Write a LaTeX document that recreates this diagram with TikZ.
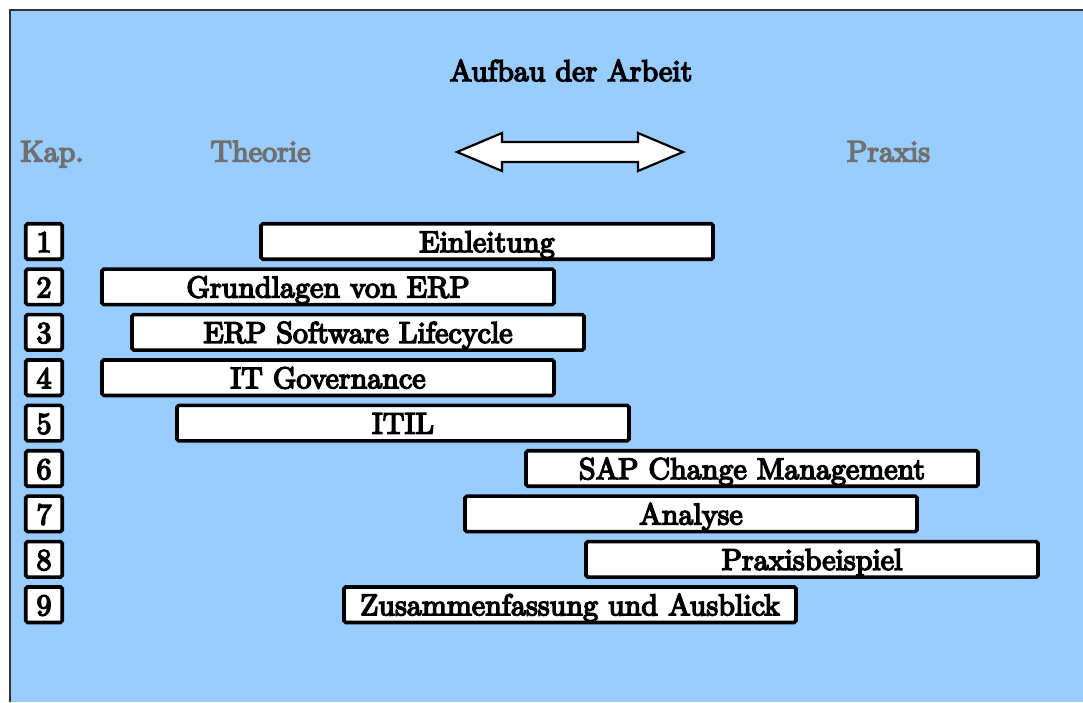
\documentclass[tikz,border=0pt]{standalone}
\usepackage{fontspec}
\newfontfamily\heavyroman[FakeBold=5]{lmroman10-regular.otf}
\definecolor{bgblue}{HTML}{99CCFF}
\definecolor{headgray}{RGB}{112,112,112}
\definecolor{framegray}{RGB}{51,51,51}
\tikzset{
  every node/.style={font=\heavyroman\fontsize{30}{34}\selectfont, inner sep=0pt,
    text height=21pt, text depth=0pt},
  chapbar/.style={draw=black, fill=white, line width=3.6pt, rounded corners=1.8pt,
    minimum width=452pt, minimum height=35.5pt},
  chapnum/.style={draw=black, fill=white, line width=3.6pt, rounded corners=1.8pt,
    minimum width=36.5pt, minimum height=35.5pt},
  colhead/.style={text=headgray},
}
\begin{document}
\begin{tikzpicture}[x=1pt, y=-1pt]
  \useasboundingbox (0,0) rectangle (1083,702);
  % page background with frame on the left and top
  \fill[bgblue] (10,10) rectangle (1083,702);
  \draw[framegray, line width=1.5pt] (10,702) -- (10,10) -- (1083,10);

  % headings
  \node (title) at (571,70.5) {Aufbau der Arbeit};
  \node[colhead] (kap) at (52,151) {Kap.};
  \node[colhead] (theorie) at (260.5,151) {Theorie};
  \node[colhead] (praxis) at (888.5,151) {Praxis};

  % double arrow between theory and practice
  \draw[black, fill=white, line width=2.2pt, line join=miter]
    (457,152) -- (502,133) -- (502,142) -- (638,142) -- (638,133) -- (683,152)
    -- (638,171) -- (638,162) -- (502,162) -- (502,171) -- cycle;

  % chapter numbers and bars
  \foreach \i/\cx/\txt in {
      1/487/Einleitung,
      2/328/Grundlagen von ERP,
      3/358/ERP Software Lifecycle,
      4/328/IT Governance,
      5/403/ITIL,
      6/752/SAP Change Management,
      7/691/Analyse,
      8/812/Praxisbeispiel,
      9/570/Zusammenfassung und Ausblick} {
    \pgfmathsetmacro{\cy}{241.5+45.4*(\i-1)}
    \node[chapnum] (num\i) at (44,\cy) {\i};
    \node[chapbar] (bar\i) at (\cx,\cy) {\txt};
  }
\end{tikzpicture}
\end{document}
